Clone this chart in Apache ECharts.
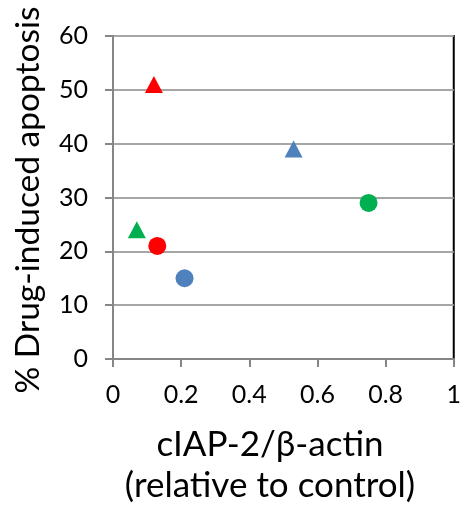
<!DOCTYPE html>
<html>
<head>
<meta charset="utf-8">
<script src="https://cdn.jsdelivr.net/npm/echarts@6/dist/echarts.min.js"></script>
<style>html,body{margin:0;padding:0;background:#fff;}#c{width:464px;height:510px;}</style>
</head>
<body>
<div id="c"></div>
<script>
const circleX = [0.13, 0.21, 0.75];
const circleY = [21, 15, 29];
const triangleX = [0.12, 0.53, 0.07];
const triangleY = [51, 39, 24];
const pointColors = ['#FF0000', '#4F81BD', '#00B050'];
const xTicks = [0, 0.2, 0.4, 0.6, 0.8, 1];
const yTicks = [0, 10, 20, 30, 40, 50, 60];
const xTitle1 = 'cIAP-2/β-actin';
const xTitle2 = '(relative to control)';
const yTitle = '% Drug-induced apoptosis';

const FONT = 'Lato';
const chart = echarts.init(document.getElementById('c'), null, {renderer: 'canvas'});
function pts(xs, ys) {
  return xs.map((x, i) => ({value: [x, ys[i]], itemStyle: {color: pointColors[i], opacity: 1}}));
}
chart.setOption({
  animation: false,
  grid: {left: 113, right: 8, top: 36, bottom: 151, show: true, borderColor: '#000', borderWidth: 2, backgroundColor: 'transparent'},
  xAxis: {
    type: 'value', min: 0, max: 1, interval: 0.2,
    axisLine: {show: true, lineStyle: {color: '#868686', width: 2}},
    axisTick: {show: true, inside: false, length: 8, lineStyle: {color: '#868686', width: 2}},
    splitLine: {show: false},
    axisLabel: {color: '#000', fontFamily: FONT, fontSize: 25, margin: 23,
      formatter: v => { const t = xTicks.find(k => Math.abs(k - v) < 1e-9); return t === undefined ? '' : String(t); }}
  },
  yAxis: {
    type: 'value', min: 0, max: 60, interval: 10,
    axisLine: {show: true, lineStyle: {color: '#868686', width: 2}},
    axisTick: {show: true, inside: false, length: 8, lineStyle: {color: '#868686', width: 2}},
    splitLine: {show: true, lineStyle: {color: '#A6A6A6', width: 2}},
    axisLabel: {color: '#000', fontFamily: FONT, fontSize: 25, margin: 25,
      formatter: v => { const t = yTicks.find(k => Math.abs(k - v) < 1e-9); return t === undefined ? '' : String(t); }}
  },
  series: [
    {type: 'scatter', symbol: 'circle', symbolSize: 18, data: pts(circleX, circleY), z: 5},
    {type: 'scatter', symbol: 'triangle', symbolSize: [18, 17], data: pts(triangleX, triangleY), z: 5}
  ],
  graphic: [
    {type: 'text', x: 270, y: 445, style: {text: xTitle1, fontFamily: FONT, fontSize: 35, fill: '#000', align: 'center', verticalAlign: 'middle'}},
    {type: 'text', x: 270, y: 486, style: {text: xTitle2, fontFamily: FONT, fontSize: 35, fill: '#000', align: 'center', verticalAlign: 'middle'}},
    {type: 'text', x: 28, y: 200, rotation: Math.PI / 2, style: {text: yTitle, fontFamily: FONT, fontSize: 33.5, fill: '#000', align: 'center', verticalAlign: 'middle'}}
  ]
});
</script>
</body>
</html>
